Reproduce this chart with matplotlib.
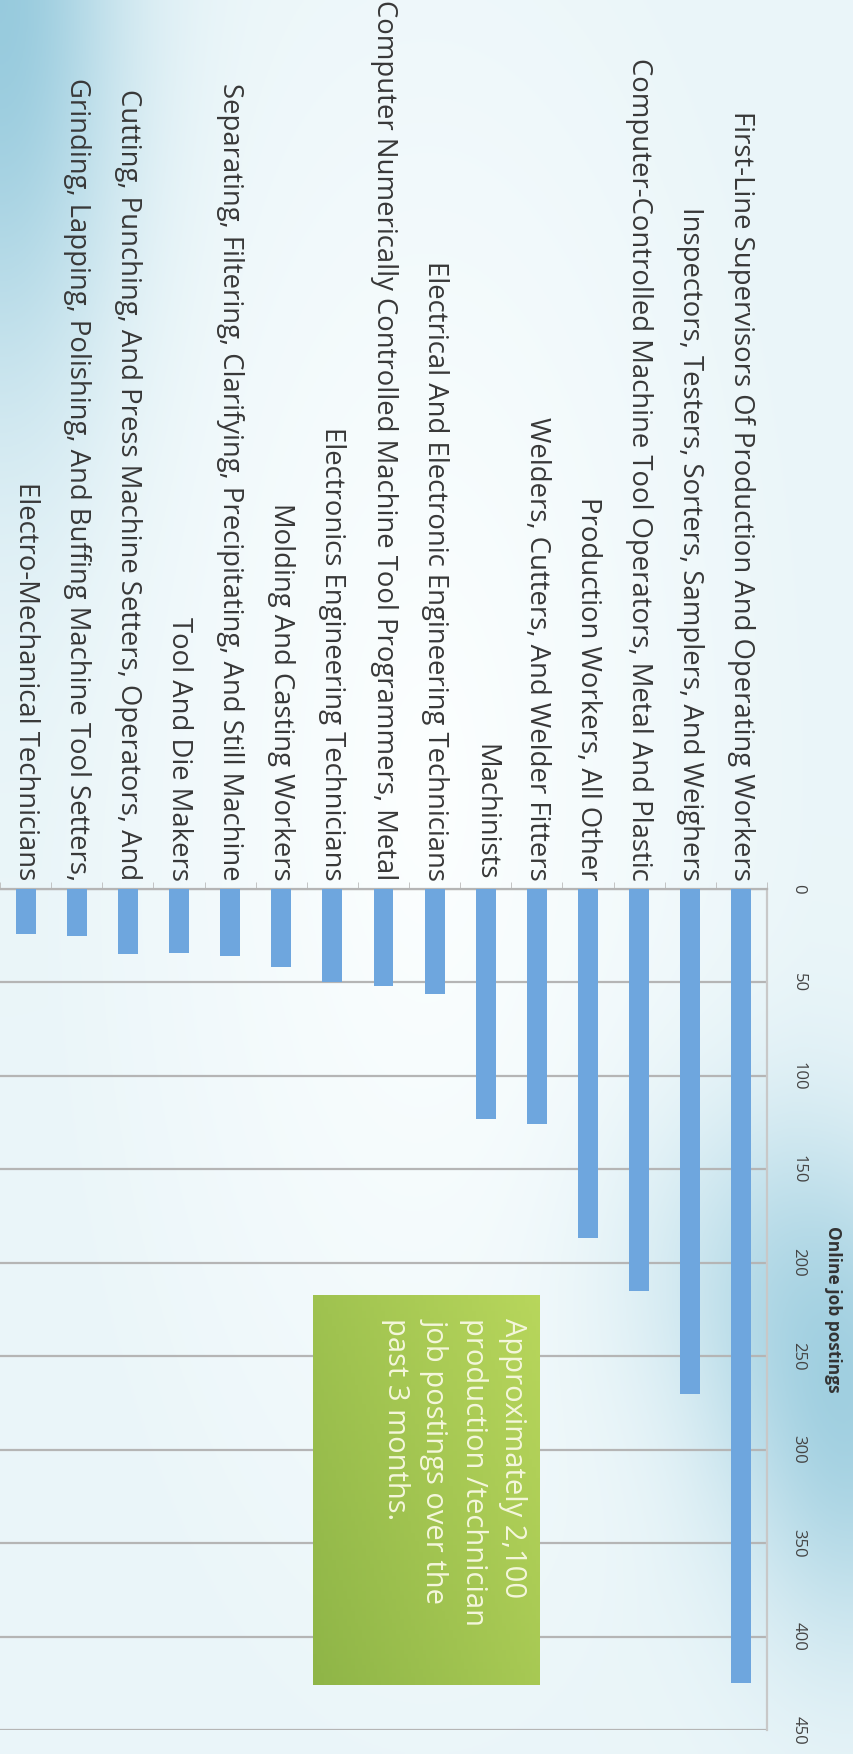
import numpy as np
import matplotlib
matplotlib.use("Agg")
import matplotlib.pyplot as plt

# occupations, top of the original list first
categories = [
    "First-Line Supervisors Of Production And Operating Workers",
    "Inspectors, Testers, Sorters, Samplers, And Weighers",
    "Computer-Controlled Machine Tool Operators, Metal And Plastic",
    "Production Workers, All Other",
    "Welders, Cutters, And Welder Fitters",
    "Machinists",
    "Electrical And Electronic Engineering Technicians",
    "Computer Numerically Controlled Machine Tool Programmers, Metal",
    "Electronics Engineering Technicians",
    "Molding And Casting Workers",
    "Separating, Filtering, Clarifying, Precipitating, And Still Machine",
    "Tool And Die Makers",
    "Cutting, Punching, And Press Machine Setters, Operators, And",
    "Grinding, Lapping, Polishing, And Buffing Machine Tool Setters,",
    "Electro-Mechanical Technicians",
]
postings = [425, 270, 215, 187, 126, 123, 56, 52, 50, 42, 36, 34, 35, 25, 24]
value_ticks = [0, 50, 100, 150, 200, 250, 300, 350, 400, 450]
axis_title = "Online job postings"
note = "Approximately 2,100\nproduction /technician\njob postings over the\npast 3 months."

plt.rcParams["font.family"] = ["Open Sans", "DejaVu Sans"]

W, H = 854, 1754
fig = plt.figure(figsize=(W / 100, H / 100), dpi=100)


def fig_box(x0, y0, x1, y1):
    # pixel box (top-left origin) -> figure fraction rect
    return [x0 / W, 1 - y1 / H, (x1 - x0) / W, (y1 - y0) / H]


# soft blue/teal background wash
bg = fig.add_axes([0, 0, 1, 1], zorder=-5)
xx, yy = np.meshgrid(np.linspace(0, 1, 300), np.linspace(0, 1, 600))
w = 0.13 * np.clip(np.hypot(xx - 0.5, (yy - 0.45) * 0.8) * 2.2, 0, 1)
w += 0.6 * np.exp(-(xx ** 2 / 0.02 + yy ** 2 / 0.05))
w += 0.45 * np.exp(-((xx - 1) ** 2 / 0.02 + (yy - 0.82) ** 2 / 0.015))
w += 0.25 * np.exp(-((xx - 0.9) ** 2 / 0.03 + (yy - 0.72) ** 2 / 0.01))
w = np.clip(w, 0, 1)[..., None]
tint = np.array([0.45, 0.72, 0.82])
img = (1 - w) * np.array([0.99, 1.0, 1.0]) + w * tint
bg.imshow(img, aspect="auto", extent=[0, 1, 1, 0])
bg.set_xlim(0, 1)
bg.set_ylim(1, 0)
bg.axis("off")

ax = fig.add_axes(fig_box(0, 889, 767, 1730))
ax.patch.set_alpha(0)
n = len(categories)
pos = np.arange(n)
ax.bar(pos, postings, width=0.39, color="#6ea6de", zorder=3)
ax.set_xlim(n - 0.5, -0.5)
ax.set_ylim(450, 0)

ax.xaxis.tick_top()
ax.set_xticks(pos)
ax.set_xticklabels(categories, rotation=-90, fontsize=19.8, color="#383838")
ax.tick_params(axis="x", length=0, pad=6)
ax.set_xticks(np.arange(n + 1) - 0.5, minor=True)
ax.tick_params(axis="x", which="minor", length=5, color="#bbbbbb", top=True, bottom=False)

ax.yaxis.tick_right()
ax.set_yticks(value_ticks)
ax.set_yticklabels([str(v) for v in value_ticks], rotation=-90, fontsize=12,
                   color="#444444", va="center")
ax.tick_params(axis="y", length=0, pad=17)
ax.yaxis.set_label_position("right")
ax.set_ylabel(axis_title, rotation=-90, fontsize=12.5, fontweight="bold",
              color="#333333", ha="center", va="center")
ax.yaxis.set_label_coords(1.086, 0.5)

ax.grid(axis="y", color="#b5b5b5", linewidth=1.6, zorder=1)
for s in ["left", "bottom"]:
    ax.spines[s].set_visible(False)
ax.spines["top"].set_color("#b5b5b5")
ax.spines["top"].set_linewidth(1.6)
ax.spines["right"].set_color("#c8c8c8")
ax.spines["right"].set_linewidth(1.6)

# green note box with a soft gradient
box = fig.add_axes(fig_box(313, 1295, 540, 1685), zorder=4)
gx, gy = np.meshgrid(np.linspace(0, 1, 60), np.linspace(0, 1, 100))
gw = np.clip(0.6 * gx + 0.4 * (1 - gy), 0, 1)[..., None]
gimg = (1 - gw) * np.array([0.56, 0.71, 0.28]) + gw * np.array([0.72, 0.84, 0.36])
box.imshow(gimg, aspect="auto", extent=[0, 1, 1, 0])
box.axis("off")
fig.text(527 / W, 1 - 1318 / H, note, rotation=-90, fontsize=21,
         color="#f4f7dc", ha="left", va="top", linespacing=1.45,
         rotation_mode="anchor", multialignment="left", zorder=5)

fig.savefig("out.png", dpi=100)
